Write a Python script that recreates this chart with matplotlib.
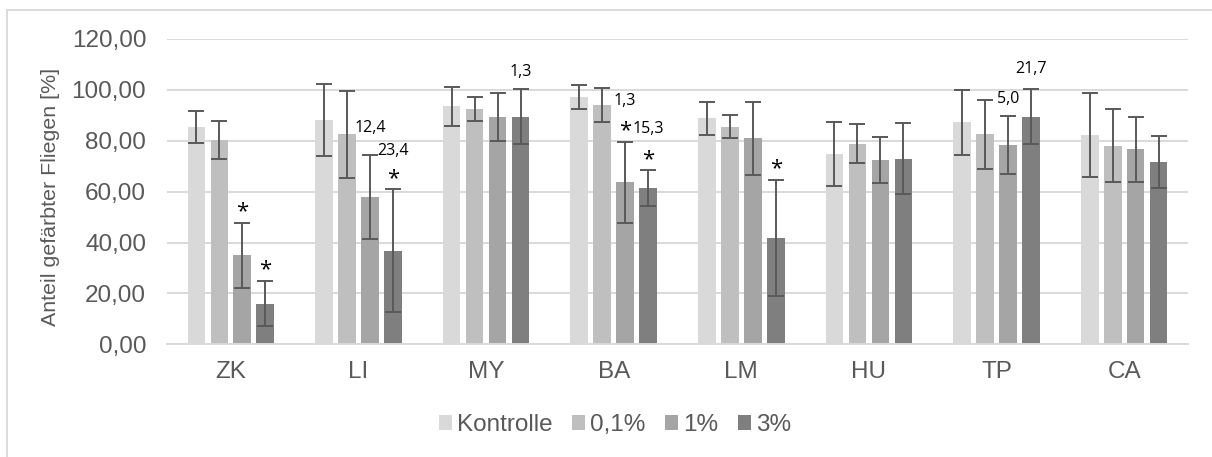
import matplotlib
matplotlib.use("Agg")
import matplotlib.pyplot as plt
import numpy as np
from matplotlib.patches import Rectangle

categories = ["ZK", "LI", "MY", "BA", "LM", "HU", "TP", "CA"]
series_names = ["Kontrolle", "0,1%", "1%", "3%"]
kontrolle = [85.5, 88.2, 93.5, 97.2, 88.8, 74.7, 87.3, 82.2]
p01 = [80.2, 82.6, 92.6, 94.0, 85.6, 78.8, 82.6, 78.0]
p1 = [35.0, 57.9, 89.4, 63.6, 80.9, 72.5, 78.3, 76.6]
p3 = [16.0, 36.7, 89.5, 61.4, 41.8, 73.0, 89.5, 71.6]
err_kontrolle = [6.3, 14.2, 7.7, 4.9, 6.4, 12.6, 12.8, 16.4]
err_p01 = [7.4, 17.1, 4.7, 6.7, 4.6, 7.7, 13.6, 14.4]
err_p1 = [12.7, 16.5, 9.3, 16.0, 14.4, 9.1, 11.4, 12.7]
err_p3 = [9.0, 24.2, 10.7, 7.0, 22.8, 13.8, 10.8, 10.1]
colors = ["#d9d9d9", "#bfbfbf", "#a5a5a5", "#7f7f7f"]

# significance stars: (category index, series index)
star_cat = [0, 0, 1, 3, 3, 4]
star_ser = [2, 3, 3, 2, 3, 3]
# number labels: (category index, series index, text, y)
num_cat = [1, 1, 2, 3, 3, 6, 6]
num_ser = [2, 3, 3, 2, 3, 2, 3]
num_txt = ["12,4", "23,4", "1,3", "1,3", "15,3", "5,0", "21,7"]
num_y = [85.0, 76.0, 107.2, 95.7, 84.7, 96.4, 108.2]

values = [kontrolle, p01, p1, p3]
errors = [err_kontrolle, err_p01, err_p1, err_p3]

W, H = 1212, 457
fig = plt.figure(figsize=(W / 100, H / 100), dpi=100)
ax = fig.add_axes([167 / W, (H - 344.3) / H, (1188 - 167) / W, (344.3 - 39) / H])

fontname = "Liberation Sans"
annfont = "Open Sans"
txtcol = "#595959"
fs = 17.5

x = np.arange(len(categories))
step = 0.18
width = 0.138
offsets = (np.arange(4) - 1.5) * step
for i in range(4):
    ax.bar(x + offsets[i], values[i], width, color=colors[i], label=series_names[i], zorder=2)
    ax.errorbar(x + offsets[i], values[i], yerr=errors[i], fmt="none", ecolor="#595959",
                elinewidth=1.4, capsize=6, capthick=1.4, zorder=3)

for c, s in zip(star_cat, star_ser):
    ytop = values[s][c] + errors[s][c]
    ax.text(x[c] + offsets[s], ytop + 4.3, "*", ha="center", va="center",
            fontsize=16, family=annfont, color="black", zorder=4)
for c, s, t, yv in zip(num_cat, num_ser, num_txt, num_y):
    ax.text(x[c] + offsets[s], yv, t, ha="center", va="center",
            fontsize=11.5, family=annfont, color="black", zorder=4)

ax.set_xlim(-0.5, len(categories) - 0.5)
ax.set_ylim(0, 120)
ax.set_yticks(np.arange(0, 121, 20))
ax.set_yticklabels([f"{v:.2f}".replace(".", ",") for v in np.arange(0, 121, 20)],
                   fontsize=fs, family=fontname, color=txtcol)
ax.set_xticks(x)
ax.set_xticklabels(categories, fontsize=fs, family=fontname, color=txtcol)
ax.tick_params(axis="both", length=0)
ax.tick_params(axis="y", pad=15)
ax.tick_params(axis="x", pad=12)
ax.grid(axis="y", color="#d9d9d9", linewidth=1.4, zorder=0)
ax.set_axisbelow(True)
for sp in ["top", "right", "left"]:
    ax.spines[sp].set_visible(False)
ax.spines["bottom"].set_color("#d9d9d9")
ax.spines["bottom"].set_linewidth(1.4)

# y label: target extent in pixels (from top): y ~64..330, centred at x 51
ylab = fig.text(51 / W, 1 - 197 / H, "Anteil gefärbter Fliegen [%]", rotation=90, ha="center",
                va="center", fontsize=13, family=fontname, color=txtcol)
fig.canvas.draw()
bb = ylab.get_window_extent()
ylab.set_fontsize(13 * 258.0 / bb.height)
fig.canvas.draw()
bb = ylab.get_window_extent()
cy = (bb.y0 + bb.y1) / 2
ylab.set_position((51 / W, 1 - 197 / H + (H - 197 - cy) / H))

leg = fig.legend(loc="center", bbox_to_anchor=(615 / W, 1 - 425 / H), ncol=4, frameon=False,
                 prop={"family": fontname, "size": fs}, handlelength=0.55, handleheight=0.55,
                 handletextpad=0.2, columnspacing=0.8, labelcolor=txtcol)

fig.patches.append(Rectangle((7 / W, -0.1), 1.2, (1 - 9.5 / H) + 0.1, transform=fig.transFigure,
                             fill=False, edgecolor="#d9d9d9", linewidth=1.3, zorder=0))

fig.savefig("out.png", dpi=100)
